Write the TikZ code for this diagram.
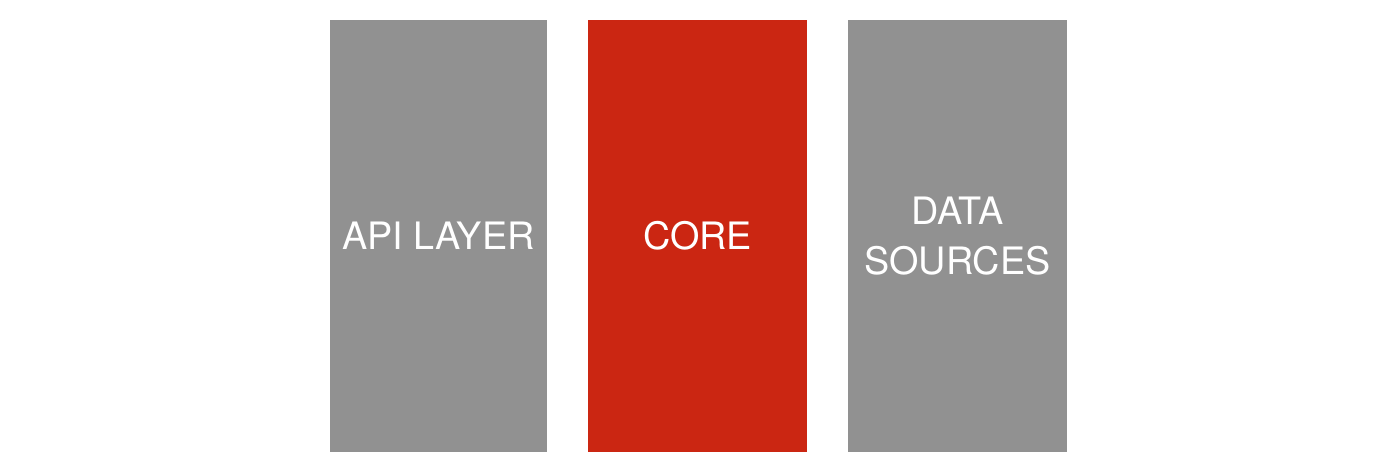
\documentclass[tikz,border=0pt]{standalone}
\usepackage{fontspec}
\setmainfont{TeX Gyre Heros}
\usetikzlibrary{positioning}
\definecolor{layergray}{HTML}{919191}
\definecolor{corered}{HTML}{CB2612}
\tikzset{
  layer/.style={draw=none, minimum width=4.36cm, minimum height=8.64cm,
    inner sep=0pt, text=white, align=center,
    font=\fontsize{21.5}{28}\selectfont},
}
\begin{document}
\begin{tikzpicture}[x=0.02cm,y=-0.02cm]
  \useasboundingbox (0,0) rectangle (1400,474);
  \node[layer, fill=layergray] (api) at (438.5,236) {API LAYER};
  \node[layer, fill=corered, minimum width=4.38cm, right=0.8cm of api] (core) {CORE};
  \node[layer, fill=layergray, minimum width=4.38cm, right=0.8cm of core] (data) {DATA\\SOURCES};
\end{tikzpicture}
\end{document}
